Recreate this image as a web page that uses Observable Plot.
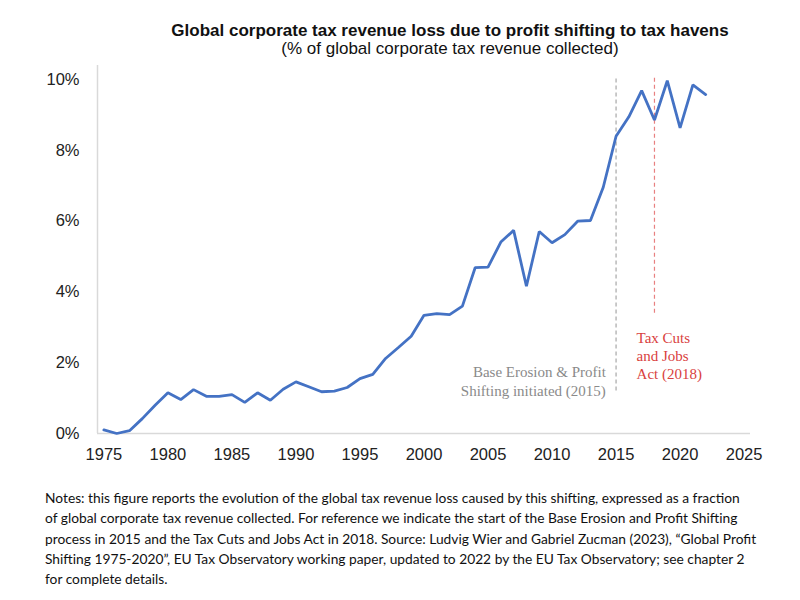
<!DOCTYPE html>
<html><head><meta charset="utf-8">
<script src="https://cdn.jsdelivr.net/npm/d3@7"></script>
<script src="https://cdn.jsdelivr.net/npm/@observablehq/plot@0.6"></script>
<style>
body{margin:0;background:#fff;width:800px;height:600px;position:relative;overflow:hidden;font-family:"Liberation Sans",Arial,sans-serif}
#title{position:absolute;left:100px;width:700px;top:21px;text-align:center;font-weight:bold;font-size:17px;line-height:19px;color:#111}
#subtitle{position:absolute;left:100px;width:700px;top:39px;text-align:center;font-size:17px;line-height:19px;color:#111}
#chart{position:absolute;left:0;top:60px}
#notes{position:absolute;left:45px;top:488px;font-family:Lato,"Noto Sans",sans-serif;font-size:14.5px;line-height:20.3px;color:#111;white-space:nowrap}
</style>
</head><body>
<div id="title">Global corporate tax revenue loss due to profit shifting to tax havens</div>
<div id="subtitle">(% of global corporate tax revenue collected)</div>
<div id="chart"></div>
<div id="notes"></div>
<script>
const years = [1975,1976,1977,1978,1979,1980,1981,1982,1983,1984,1985,1986,1987,1988,1989,1990,1991,1992,1993,1994,1995,1996,1997,1998,1999,2000,2001,2002,2003,2004,2005,2006,2007,2008,2009,2010,2011,2012,2013,2014,2015,2016,2017,2018,2019,2020,2021,2022];
const lossPct = [0.10,0.00,0.08,0.42,0.80,1.15,0.96,1.24,1.05,1.05,1.10,0.88,1.15,0.94,1.25,1.46,1.32,1.18,1.20,1.30,1.55,1.67,2.12,2.43,2.75,3.34,3.39,3.36,3.60,4.69,4.70,5.41,5.74,4.16,5.71,5.39,5.62,6.00,6.02,6.96,8.40,8.95,9.69,8.86,9.97,8.64,9.85,9.58];
const xTicks = [1975,1980,1985,1990,1995,2000,2005,2010,2015,2020,2025];
const yTicks = [0,2,4,6,8,10];
const eventYears = [2015, 2018];
const eventLabels = ["Base Erosion & Profit\nShifting initiated (2015)", "Tax Cuts\nand Jobs\nAct (2018)"];
const noteLines = [
 "Notes: this figure reports the evolution of the global tax revenue loss caused by this shifting, expressed as a fraction",
 "of global corporate tax revenue collected. For reference we indicate the start of the Base Erosion and Profit Shifting",
 "process in 2015 and the Tax Cuts and Jobs Act in 2018. Source: Ludvig Wier and Gabriel Zucman (2023), \u201cGlobal Profit",
 "Shifting 1975-2020\u201d, EU Tax Observatory working paper, updated to 2022 by the EU Tax Observatory; see chapter 2",
 "for complete details."
];

const data = years.map((y, i) => ({year: y, value: lossPct[i]}));

const plot = Plot.plot({
  width: 800, height: 415,
  marginLeft: 97, marginRight: 50, marginTop: 5, marginBottom: 42,
  style: {fontFamily: "'Liberation Sans', Arial, sans-serif", fontSize: "16.5px", color: "#222", background: "white", overflow: "visible"},
  x: {domain: [1974.5, 2025.5], ticks: xTicks, tickFormat: d => String(d), tickSize: 0, tickPadding: 15, label: null},
  y: {domain: [0, 10.4], ticks: yTicks, tickFormat: d => d + "%", tickSize: 0, tickPadding: 18, label: null},
  marks: [
    Plot.ruleY([0], {stroke: "#d9d9d9", strokeWidth: 1.5}),
    Plot.ruleX([1974.5], {y1: 0, y2: 10.4, stroke: "#d9d9d9", strokeWidth: 1.5}),
    Plot.ruleX([eventYears[0]], {y1: 1.2, y2: 10.06, stroke: "#a8a8a8", strokeWidth: 1.2, strokeDasharray: "4,3"}),
    Plot.ruleX([eventYears[1]], {y1: 3.4, y2: 10.06, stroke: "#e88080", strokeWidth: 1.2, strokeDasharray: "4,3"}),
    Plot.line(data, {x: "year", y: "value", stroke: "#4472C4", strokeWidth: 2.8, strokeLinejoin: "miter"}),
    Plot.text([eventLabels[0]], {x: 2014.2, y: 1.51, text: d => d, textAnchor: "end", fill: "#8a8a8a", fontFamily: "'Liberation Serif', serif", fontSize: 15, lineHeight: 1.27}),
    Plot.text([eventLabels[1]], {x: 2016.6, y: 2.2, text: d => d, textAnchor: "start", fill: "#d9413e", fontFamily: "'Liberation Serif', serif", fontSize: 15, lineHeight: 1.2})
  ]
});
document.getElementById("chart").appendChild(plot);

const notes = document.getElementById("notes");
noteLines.forEach(t => { const d = document.createElement("div"); d.textContent = t; notes.appendChild(d); });
const w = notes.firstChild.getBoundingClientRect().width;
notes.style.fontSize = (14.5 * 712 / w) + "px";
</script>
</body></html>
